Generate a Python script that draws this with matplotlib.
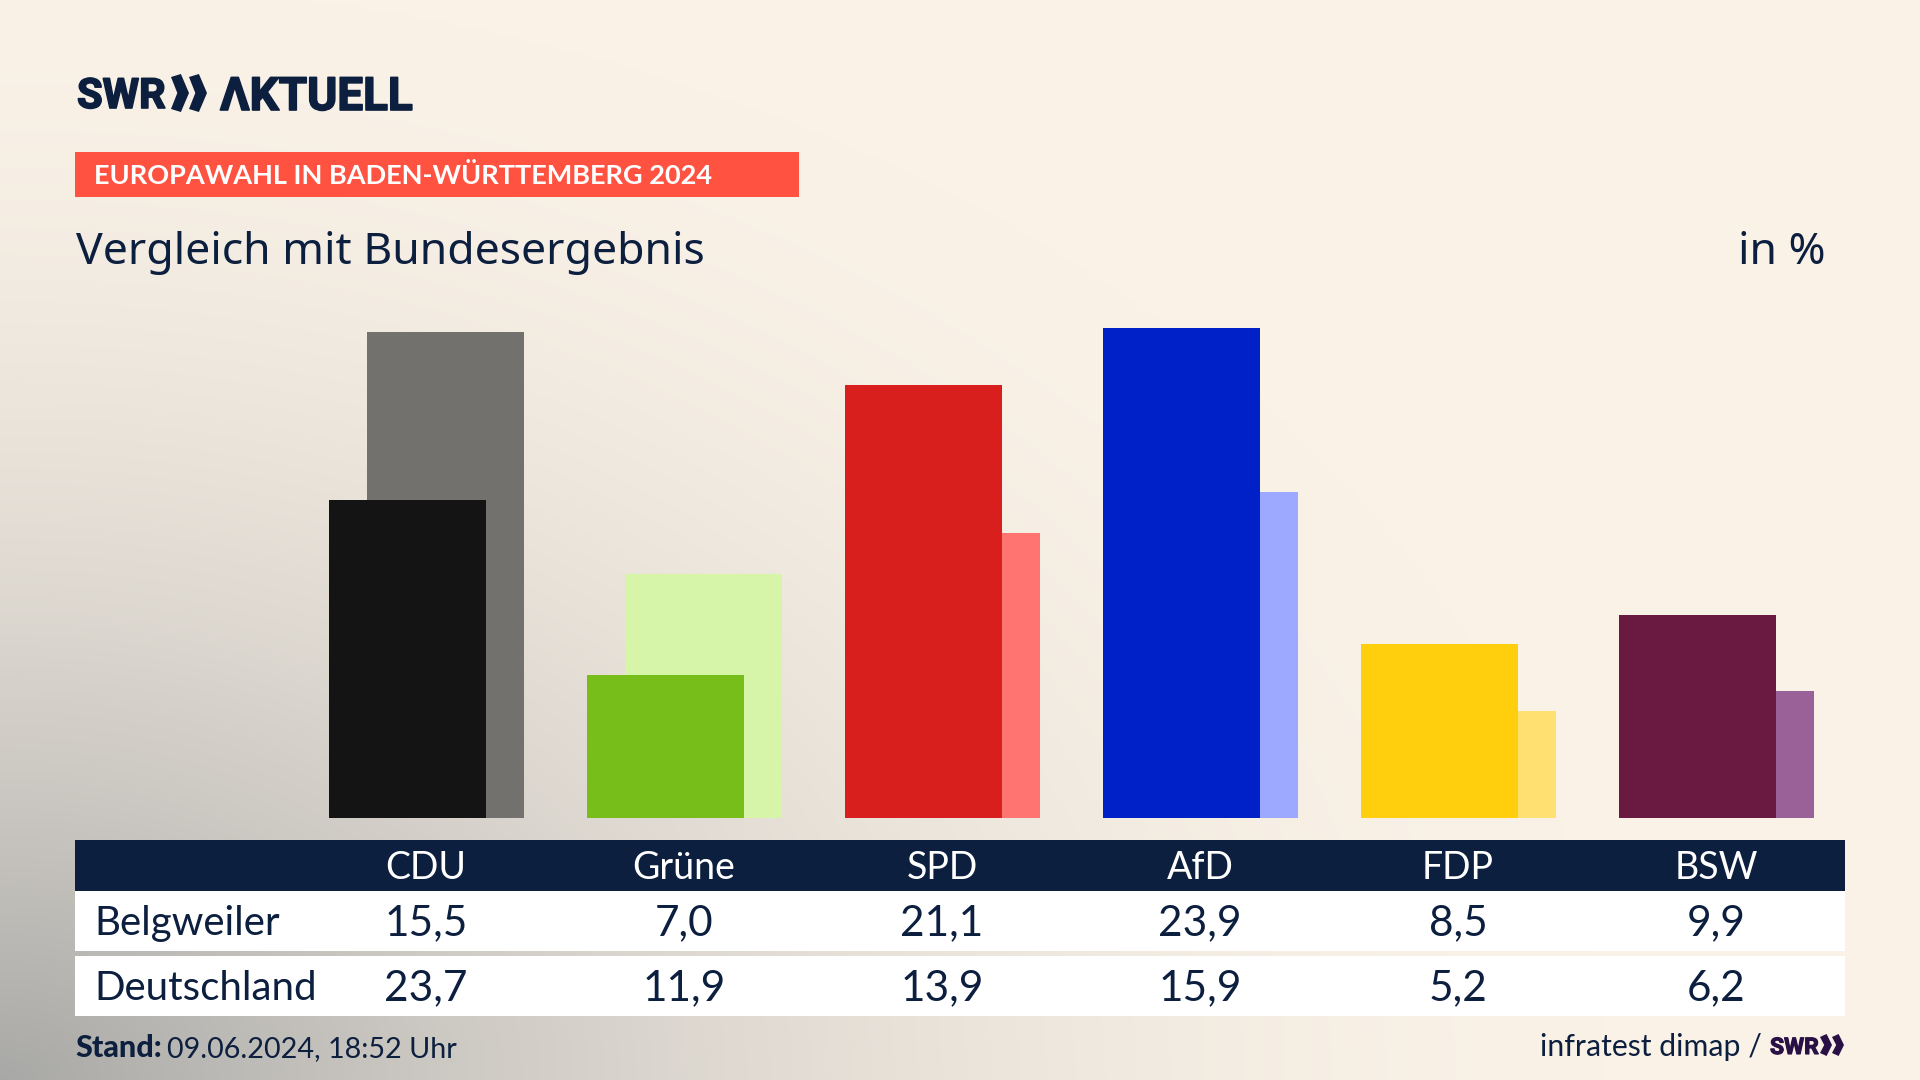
import numpy as np
import matplotlib
matplotlib.use("Agg")
import matplotlib.pyplot as plt
import matplotlib.patheffects as pe
from matplotlib.patches import Rectangle, Polygon

# =========================================================
# data
# =========================================================
parties = ["CDU", "Grüne", "SPD", "AfD", "FDP", "BSW"]
belgweiler = [15.5, 7.0, 21.1, 23.9, 8.5, 9.9]
deutschland = [23.7, 11.9, 13.9, 15.9, 5.2, 6.2]
front_colors = ["#141414", "#78BE1A", "#D81F1E", "#0020C8", "#FFCE0C", "#6A1A40"]
back_colors = ["#72716E", "#D7F5A8", "#FF7370", "#9DA9FF", "#FFE070", "#9A6198"]
row_labels = ["Belgweiler", "Deutschland"]

# =========================================================
# parameters
# =========================================================
navy = "#0C1F3F"
purple = "#2A1145"
cream = np.array([250, 242, 231]) / 255
grey = np.array([168, 168, 166]) / 255
col_x = 426 + 258 * np.arange(len(parties))

plt.rcParams['font.family'] = ['Lato', 'DejaVu Sans']

fig = plt.figure(figsize=(19.2, 10.8), dpi=100)

# =========================================================
# background gradient, drawn in pixel coordinates
# =========================================================
ov = fig.add_axes([0, 0, 1, 1])
ov.axis("off")
yy, xx = np.mgrid[0:1080:4, 0:1920:4]
t = np.clip(1 - np.sqrt((xx / 1600) ** 2 + ((1080 - yy) / 1100) ** 2), 0, 1) ** 1.8
bg = cream[None, None, :] * (1 - t[..., None]) + grey[None, None, :] * t[..., None]
ov.imshow(bg, extent=(0, 1920, 1080, 0), aspect="auto", interpolation="bilinear", zorder=0)
ov.set_xlim(0, 1920)
ov.set_ylim(1080, 0)


def chevrons(x, top, bottom, w, color):
    # two right pointing arrows of the SWR logo
    mid = (top + bottom) / 2
    for x0 in (x, x + w):
        ov.add_patch(Polygon([(x0, top + 3), (x0 + w * 0.55, top), (x0 + w, mid),
                              (x0 + w * 0.55, bottom), (x0, bottom - 3),
                              (x0 + w * 0.35, mid)], closed=True, fc=color, ec="none", zorder=3))


# =========================================================
# header
# =========================================================
heavy = [pe.withStroke(linewidth=1.2, foreground=navy)]
ov.text(77, 108, "SWR", fontsize=30, fontweight="bold", family=["Roboto", "Lato"], color=navy,
        va="baseline", path_effects=heavy)
chevrons(171, 74, 112, 18, navy)
ov.text(220, 110, "ΛKTUELL", fontsize=33, fontweight="bold", family=["Roboto", "Lato"], color=navy,
        va="baseline", path_effects=heavy)

ov.add_patch(Rectangle((75, 152), 724, 45, fc="#FF5240", ec="none", zorder=2))
ov.text(94, 184, "EUROPAWAHL IN BADEN-WÜRTTEMBERG 2024", fontsize=19.5, fontweight="bold",
        color="white", va="baseline", zorder=3)
ov.text(76, 264, "Vergleich mit Bundesergebnis", fontsize=32.1, family=["Noto Sans", "Lato"],
        color=navy, va="baseline")
ov.text(1825, 264, "in %", fontsize=32.1, family=["Noto Sans", "Lato"], color=navy,
        va="baseline", ha="right")

# =========================================================
# bars
# =========================================================
ax = fig.add_axes([75.7 / 1920, 1 - 818 / 1080, 1770 / 1920, 518 / 1080])
ax.patch.set_alpha(0)
ax.set_xlim((75 - 426) / 258, (1845 - 426) / 258)
ax.set_ylim(0, 518 / 20.5)
ax.axis("off")
x = np.arange(len(parties))
ax.bar(x + 0.074, deutschland, width=0.607, color=back_colors)
ax.bar(x - 0.074, belgweiler, width=0.607, color=front_colors)

# =========================================================
# table
# =========================================================
ov.add_patch(Rectangle((75, 840), 1770, 51, fc=navy, ec="none", zorder=2))
ov.add_patch(Rectangle((75, 891), 1770, 60, fc="white", ec="none", zorder=2))
ov.add_patch(Rectangle((75, 956), 1770, 60, fc="white", ec="none", zorder=2))
for cx, name, a, b in zip(col_x, parties, belgweiler, deutschland):
    ov.text(cx, 879, name, fontsize=27, color="white", ha="center", va="baseline", zorder=3)
    ov.text(cx, 935, f"{a:.1f}".replace(".", ","), fontsize=30.5, color=navy,
            ha="center", va="baseline", zorder=3)
    ov.text(cx, 1000, f"{b:.1f}".replace(".", ","), fontsize=30.5, color=navy,
            ha="center", va="baseline", zorder=3)
ov.text(94, 935, row_labels[0], fontsize=29, color=navy, va="baseline", zorder=3)
ov.text(94, 1000, row_labels[1], fontsize=29, color=navy, va="baseline", zorder=3)

# =========================================================
# footer
# =========================================================
ov.text(75, 1057, "Stand:", fontsize=22, fontweight="black", color=navy, va="baseline")
ov.text(167, 1057, "09.06.2024, 18:52 Uhr", fontsize=20.7, color=navy, va="baseline")
ov.text(1762, 1056, "infratest dimap /", fontsize=21.8, color=navy, va="baseline", ha="right")
ov.text(1770, 1054, "SWR", fontsize=16.5, fontweight="bold", family=["Roboto", "Lato"], color=purple,
        va="baseline", path_effects=[pe.withStroke(linewidth=0.8, foreground=purple)])
chevrons(1820, 1034, 1056, 12, purple)

plt.savefig("out.png", dpi=100)
